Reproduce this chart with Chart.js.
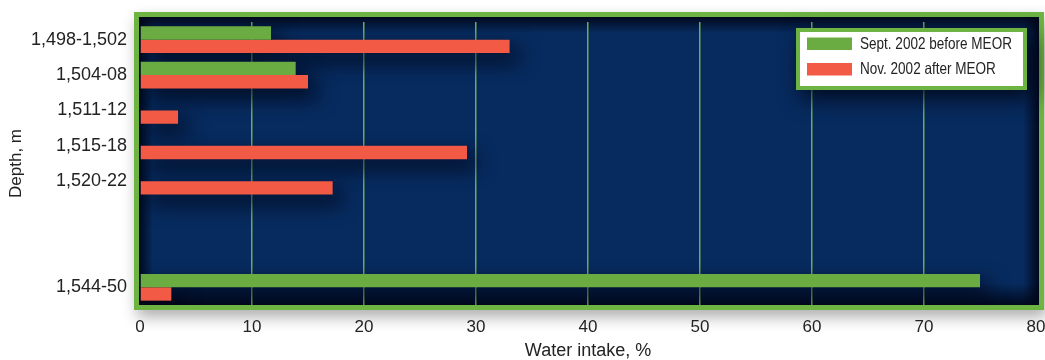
<!DOCTYPE html>
<html>
<head>
<meta charset="utf-8">
<script src="https://cdn.jsdelivr.net/npm/chart.js@4.4.1/dist/chart.umd.min.js"></script>
<style>
  html, body { margin: 0; padding: 0; background: #ffffff; }
  #wrap { width: 1045px; height: 360px; position: relative; }
  canvas { display: block; }
</style>
</head>
<body>
<div id="wrap"><canvas id="chart" width="1045" height="360"></canvas></div>
<script>
// Depth intervals of the injection well (m) and water intake per interval (%)
const depthIntervals = ['1,498-1,502', '1,504-08', '1,511-12', '1,515-18', '1,520-22', '1,544-50'];
const septBefore = [11.7, 13.9, 0, 0, 0, 75.0];
const novAfter = [33.0, 15.0, 3.4, 29.2, 17.2, 2.8];
const intakeTicks = [0, 10, 20, 30, 40, 50, 60, 70, 80];
const seriesNames = ['Sept. 2002 before MEOR', 'Nov. 2002 after MEOR'];

const GREEN = '#6aab42';
const RED = '#f25a45';
const FRAME = '#6db443';
const GRID = 'rgba(118,178,92,0.95)';
const TEXT = '#232323';
const SANS = '"Liberation Sans", Arial, sans-serif';

// The deepest interval is set apart from the others by two empty rows.
const GAP_ROWS = 2;
function withGap(arr, filler) {
  const last = arr.length - 1;
  return [...arr.slice(0, last), ...Array(GAP_ROWS).fill(filler), arr[last]];
}
const rowLabels = withGap(depthIntervals, '');

// Navy panel with green frame, soft vignette and drop shadow
const panelPlugin = {
  id: 'panel',
  beforeDraw(chart) {
    const { ctx, chartArea: ca } = chart;
    const x0 = ca.left - 1, x1 = ca.right + 3, y0 = ca.top - 5, y1 = ca.bottom;
    const bw = 5;
    ctx.save();
    ctx.shadowColor = 'rgba(0,0,0,0.32)';
    ctx.shadowBlur = 14;
    ctx.shadowOffsetX = 3;
    ctx.shadowOffsetY = 7;
    ctx.fillStyle = FRAME;
    ctx.fillRect(x0 - bw, y0 - bw, x1 - x0 + 2 * bw, y1 - y0 + 2 * bw);
    ctx.restore();

    ctx.save();
    ctx.fillStyle = '#072b5f';
    ctx.fillRect(x0, y0, x1 - x0, y1 - y0);
    const dark = 'rgba(0,6,24,0.92)';
    const clear = 'rgba(0,6,24,0)';
    const edge = (gx0, gy0, gx1, gy1, rx, ry, rw, rh) => {
      const g = ctx.createLinearGradient(gx0, gy0, gx1, gy1);
      g.addColorStop(0, dark);
      g.addColorStop(1, clear);
      ctx.fillStyle = g;
      ctx.fillRect(rx, ry, rw, rh);
    };
    edge(0, y0, 0, y0 + 16, x0, y0, x1 - x0, 16);
    edge(0, y1, 0, y1 - 22, x0, y1 - 22, x1 - x0, 22);
    edge(x0, 0, x0 + 14, 0, x0, y0, 14, y1 - y0);
    edge(x1, 0, x1 - 16, 0, x1 - 16, y0, 16, y1 - y0);
    ctx.restore();
  },
  // soft shadows cast by the bars onto the panel, drawn underneath all bars
  beforeDatasetsDraw(chart) {
    const { ctx, chartArea: ca } = chart;
    const OFF = 5000;
    ctx.save();
    ctx.beginPath();
    ctx.rect(ca.left, ca.top - 5, ca.right - ca.left + 3, ca.bottom - ca.top + 5);
    ctx.clip();
    ctx.shadowColor = 'rgba(0,4,18,0.85)';
    ctx.shadowBlur = 20;
    ctx.shadowOffsetX = OFF + 9;
    ctx.shadowOffsetY = 9;
    ctx.fillStyle = '#000';
    chart.data.datasets.forEach((ds, i) => {
      chart.getDatasetMeta(i).data.forEach(el => {
        const { x, y, base, height } = el.getProps(['x', 'y', 'base', 'height'], true);
        if (!isFinite(x) || !isFinite(base) || Math.abs(x - base) < 0.5) return;
        ctx.fillRect(Math.min(x, base) - OFF, y - height / 2, Math.abs(x - base), height);
      });
    });
    ctx.restore();
  }
};

// Boxed legend in the upper right corner of the panel
const boxLegendPlugin = {
  id: 'boxLegend',
  afterDatasetsDraw(chart) {
    const { ctx, chartArea: ca } = chart;
    const w = 231, h = 62;
    const bx = ca.right - 9 - w;
    const by = ca.top + 6;
    ctx.save();
    ctx.shadowColor = 'rgba(0,4,18,0.85)';
    ctx.shadowBlur = 22;
    ctx.shadowOffsetX = 6;
    ctx.shadowOffsetY = 8;
    ctx.fillStyle = FRAME;
    ctx.fillRect(bx, by, w, h);
    ctx.restore();

    ctx.save();
    ctx.fillStyle = '#ffffff';
    ctx.fillRect(bx + 4, by + 4, w - 8, h - 8);
    chart.data.datasets.forEach((ds, i) => {
      const sy = by + 9.5 + i * 25.5;
      ctx.fillStyle = ds.backgroundColor;
      ctx.fillRect(bx + 11, sy, 45, 12.5);
      // condensed lettering
      ctx.save();
      ctx.translate(bx + 64, sy + 6.8);
      ctx.scale(0.82, 1);
      ctx.font = '16.5px ' + SANS;
      ctx.textBaseline = 'middle';
      ctx.textAlign = 'left';
      ctx.fillStyle = TEXT;
      ctx.fillText(ds.label, 0, 0);
      ctx.restore();
    });
    ctx.restore();
  }
};

new Chart(document.getElementById('chart'), {
  type: 'bar',
  data: {
    labels: rowLabels,
    datasets: [
      { label: seriesNames[0], data: withGap(septBefore, null), backgroundColor: GREEN },
      { label: seriesNames[1], data: withGap(novAfter, null), backgroundColor: RED }
    ]
  },
  options: {
    indexAxis: 'y',
    responsive: false,
    animation: false,
    devicePixelRatio: 1,
    layout: { padding: { top: 22, right: 0, bottom: 0, left: 0 } },
    datasets: {
      bar: { categoryPercentage: 0.755, barPercentage: 1.0, borderWidth: 0 }
    },
    plugins: {
      legend: { display: false },
      tooltip: { enabled: false }
    },
    scales: {
      x: {
        type: 'linear',
        min: 0,
        max: 80,
        afterBuildTicks(scale) {
          scale.ticks = intakeTicks.map(v => ({ value: v }));
        },
        afterFit(scale) {
          scale.height = 55;
          scale.paddingLeft = 0;
          scale.paddingRight = 9;
        },
        grid: {
          display: true,
          drawOnChartArea: true,
          drawTicks: false,
          // the frame already marks both ends of the axis
          color: c => (c.tick && (c.tick.value === 0 || c.tick.value === 80)) ? 'rgba(0,0,0,0)' : GRID,
          lineWidth: 1.5
        },
        border: { display: false },
        ticks: {
          color: TEXT,
          padding: 12,
          maxRotation: 0,
          autoSkip: false,
          font: { family: SANS, size: 17 }
        },
        title: {
          display: true,
          text: 'Water intake, %',
          color: TEXT,
          padding: { top: 0, bottom: 0 },
          font: { family: SANS, size: 18, lineHeight: 1 }
        }
      },
      y: {
        type: 'category',
        afterFit(scale) {
          scale.width = 140;
          scale.paddingTop = 0;
          scale.paddingBottom = 0;
        },
        grid: { display: false, drawTicks: false },
        border: { display: false },
        ticks: {
          color: TEXT,
          padding: 13,
          autoSkip: false,
          font: { family: SANS, size: 18 }
        },
        title: {
          display: true,
          text: 'Depth, m',
          color: TEXT,
          padding: { top: 8, bottom: 0 },
          font: { family: SANS, size: 17, lineHeight: 1 }
        }
      }
    }
  },
  plugins: [panelPlugin, boxLegendPlugin]
});
</script>
</body>
</html>
